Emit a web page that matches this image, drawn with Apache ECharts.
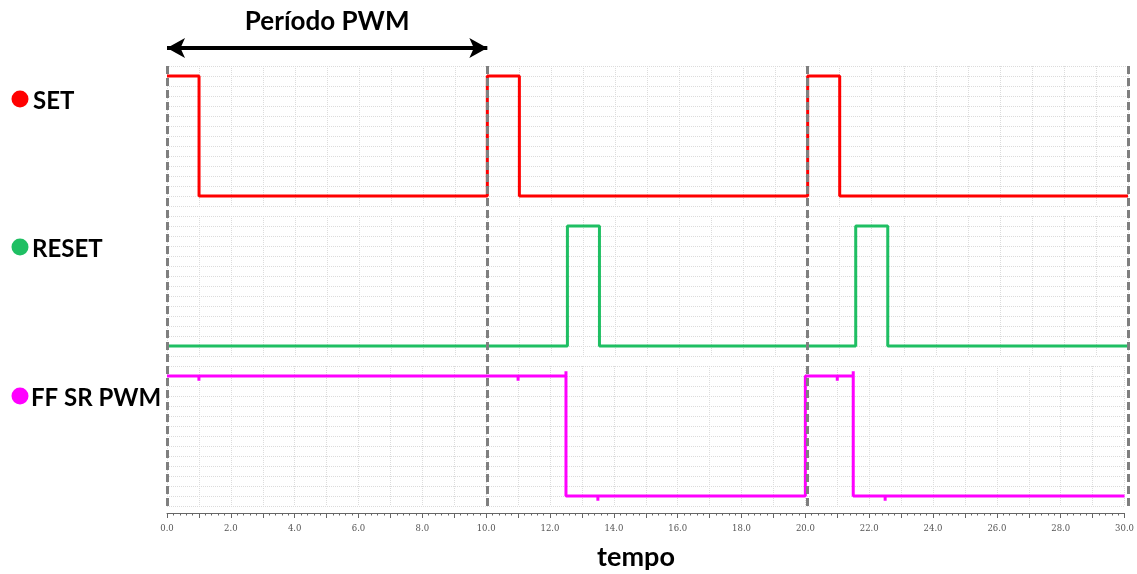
<!DOCTYPE html>
<html>
<head>
<meta charset="utf-8">
<script src="https://cdn.jsdelivr.net/npm/echarts@6/dist/echarts.min.js"></script>
<style>
  html, body { margin: 0; padding: 0; background: #fff; }
  #chart { width: 1137px; height: 574px; }
</style>
</head>
<body>
<div id="chart"></div>
<script>
// Switching times (time units) and logic levels of each trace; levels hold until the next time.
const setTime   = [0, 1, 10, 11, 20, 21, 30];
const setLevel  = [1, 0, 1, 0, 1, 0, 0];

const resetTime  = [0, 12.5, 13.5, 21.5, 22.5, 30];
const resetLevel = [0, 1, 0, 1, 0, 0];

// Flip-flop output, including the short glitches at each input edge
const pwmTime  = [0, 1, 1, 11, 11, 12.5, 12.5, 13.5, 13.5, 20, 21, 21, 21.5, 21.5, 22.5, 22.5, 30];
const pwmLevel = [1, 0.96, 1, 0.96, 1, 1.04, 0, -0.04, 0, 1, 0.96, 1, 1.04, 0, -0.04, 0, 0];

// Period boundaries marked with dashed lines, and the annotated period
const periodMarks = [0, 10, 20, 30];
const periodSpan  = [0, 10];

const traceNames  = ['SET', 'RESET', 'FF SR PWM'];
const traceColors = ['#ff0000', '#1fbf63', '#ff00ff'];

const tMin = 0, tMax = 30;

const pairs = (t, v) => t.map((x, i) => [x, v[i]]);

const LEFT = 167, RIGHT = 9;
const panelTop = [66, 216, 366];
const PANEL_H = 140;

const grids = panelTop.map(t => ({ left: LEFT, right: RIGHT, top: t, height: PANEL_H }));
grids.push({ left: LEFT, right: RIGHT, top: 66, height: 440 });   // overlay for period marks
grids.push({ left: LEFT, right: RIGHT, top: 40, height: 16 });    // arrow strip

const gridLine = { show: true, lineStyle: { color: '#dcdcdc', type: 'dotted', width: 1 } };

const xAxes = grids.map((g, i) => {
  const bottom = i === 2;
  const panel = i < 3;
  return {
    type: 'value', gridIndex: i, min: tMin, max: tMax, interval: 1,
    offset: bottom ? 7 : 0,
    axisLine: { show: bottom, onZero: false, lineStyle: { color: '#666', width: 1 } },
    axisTick: { show: bottom, length: 5, lineStyle: { color: '#666' } },
    minorTick: { show: bottom, splitNumber: 5, length: 2.5, lineStyle: { color: '#666' } },
    axisLabel: {
      show: bottom, margin: 11, color: '#555', fontFamily: 'DejaVu Serif', fontSize: 8.5,
      formatter: v => (v % 2 === 0 ? v.toFixed(1) : '')
    },
    splitLine: panel ? gridLine : { show: false }
  };
});

const yAxes = grids.map((g, i) => {
  const panel = i < 3;
  return {
    type: 'value', gridIndex: i,
    min: panel ? -1 / 12 : 0, max: panel ? 13 / 12 : 1,
    interval: panel ? 1 / 12 : 1,
    axisLine: { show: false }, axisTick: { show: false }, axisLabel: { show: false },
    splitLine: panel ? gridLine : { show: false }
  };
});

const traces = [pairs(setTime, setLevel), pairs(resetTime, resetLevel), pairs(pwmTime, pwmLevel)];

const series = traces.map((d, i) => ({
  type: 'line', name: traceNames[i], xAxisIndex: i, yAxisIndex: i,
  data: d, step: 'end', showSymbol: false, symbol: 'none',
  lineStyle: { color: traceColors[i], width: 3 }, z: 2, animation: false
}));

series.push({
  type: 'line', xAxisIndex: 3, yAxisIndex: 3, data: [], z: 10, silent: true, animation: false,
  markLine: {
    symbol: 'none', silent: true, animation: false,
    label: { show: false },
    lineStyle: { color: '#7f7f7f', width: 3, type: [8, 4] },
    data: periodMarks.map(t => ({ xAxis: t }))
  }
});

series.push({
  type: 'line', xAxisIndex: 4, yAxisIndex: 4, data: [], z: 10, silent: true, animation: false,
  markLine: {
    symbol: ['arrow', 'arrow'], symbolSize: [15, 18], silent: true, animation: false,
    lineStyle: { color: '#000', width: 4, type: 'solid' },
    label: {
      show: true, position: 'insideMiddleTop', distance: 13,
      formatter: 'Período PWM', color: '#000',
      fontFamily: 'Lato', fontWeight: 'bold', fontSize: 26
    },
    data: [[{ coord: [periodSpan[0], 0.5] }, { coord: [periodSpan[1], 0.5] }]]
  }
});

// Trace names with colored dots on the left
const labelY = [100, 248, 397];
const labelX = [33, 32, 31];
const graphics = [];
traceNames.forEach((name, i) => {
  graphics.push({
    type: 'circle', shape: { cx: 20, cy: labelY[i] - 1, r: 8.5 },
    style: { fill: traceColors[i] }, silent: true
  });
  graphics.push({
    type: 'text', x: labelX[i], y: labelY[i] + 1,
    style: { text: name, fill: '#000', font: 'bold 24px Lato', verticalAlign: 'middle' },
    silent: true
  });
});
graphics.push({
  type: 'text', x: 636, y: 557,
  style: { text: 'tempo', fill: '#000', font: 'bold 27px Lato', align: 'center', verticalAlign: 'middle' },
  silent: true
});

const chart = echarts.init(document.getElementById('chart'), null, { renderer: 'canvas' });
chart.setOption({
  animation: false,
  backgroundColor: '#fff',
  grid: grids,
  xAxis: xAxes,
  yAxis: yAxes,
  series: series,
  graphic: graphics
});
</script>
</body>
</html>
